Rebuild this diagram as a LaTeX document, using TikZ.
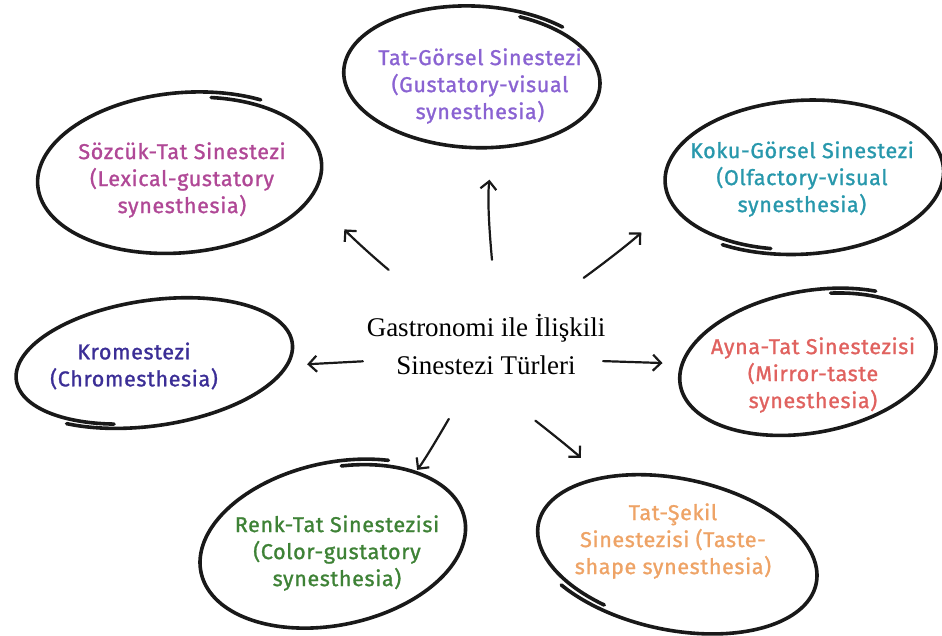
\documentclass[tikz,border=0pt]{standalone}
\usepackage{fontspec}
\setmainfont{Liberation Serif}
\newfontfamily\bubblefont{Fira Sans}[FakeBold=1.2, LetterSpace=3]
\usetikzlibrary{positioning, arrows.meta, shapes.geometric}

\definecolor{tgcol}{RGB}{138,99,210}
\definecolor{szcol}{RGB}{176,72,150}
\definecolor{kokucol}{RGB}{40,152,172}
\definecolor{kromcol}{RGB}{59,46,150}
\definecolor{aynacol}{RGB}{224,98,95}
\definecolor{renkcol}{RGB}{62,130,54}
\definecolor{sekilcol}{RGB}{238,163,102}

\begin{document}
\begin{tikzpicture}[
    x=1pt, y=-1pt,
    hub/.style={
        ellipse,
        inner xsep=-40pt,
        inner ysep=0pt,
        minimum width=250pt,
        minimum height=190pt,
        align=center,
        font=\fontsize{27}{38}\selectfont
    },
    bubble/.style={
        ellipse,
        inner xsep=-40pt,
        inner ysep=0pt,
        align=center,
        font=\bubblefont\fontsize{21.5}{27}\selectfont
    },
    sketch/.style={
        line width=3.6pt,
        line cap=round,
        line join=round,
        black!90
    },
    arrow/.style={
        -{Straight Barb[length=8pt,width=16pt]},
        line width=2.2pt,
        line cap=round,
        black!90
    }
]

\useasboundingbox (0,0) rectangle (942,636);

\node[hub] (hub) at (486,344) {Gastronomi ile İlişkili\\Sinestezi Türleri};

\node[bubble, text=tgcol, minimum width=258pt, minimum height=140pt] (tatgorsel)
    at (480,86) {Tat-Görsel Sinestezi\\(Gustatory-visual\\synesthesia)};

\node[bubble, text=szcol, minimum width=286pt, minimum height=158pt] (sozcuk)
    at (182,180) {Sözcük-Tat Sinestezi\\(Lexical-gustatory\\synesthesia)};

\node[bubble, text=kokucol, minimum width=280pt, minimum height=152pt] (koku)
    at (802,179) {Koku-Görsel Sinestezi\\(Olfactory-visual\\synesthesia)};

\node[bubble, text=kromcol, minimum width=280pt, minimum height=124pt] (krom)
    at (134,366) {Kromestezi\\(Chromesthesia)};

\node[bubble, text=aynacol, minimum width=260pt, minimum height=140pt] (ayna)
    at (813,375) {Ayna-Tat Sinestezisi\\(Mirror-taste\\synesthesia)};

\node[bubble, text=renkcol, minimum width=270pt, minimum height=160pt] (renk)
    at (337,553) {Renk-Tat Sinestezisi\\(Color-gustatory\\synesthesia)};

\node[bubble, text=sekilcol, minimum width=286pt, minimum height=150pt] (sekil)
    at (673,541) {Tat-Şekil\\Sinestezisi (Taste-\\shape synesthesia)};

\foreach \name/\dx/\dy/\rx/\ry/\rot/\start in {
    tatgorsel/-6/-8/129/70/-3/-70,
    sozcuk/0/-6/143/79/5/-75,
    koku/0/-3/140/76/3/105,
    krom/18/-4/140/62/8/110,
    ayna/-3/-12/130/70/10/-75,
    renk/-2/-8/135/80/12/-80,
    sekil/2/12/143/75/-12/115}
{
    \pgfmathsetmacro\stop{\start+380}
    \draw[sketch, shift={(\name.center)}, shift={(\dx,\dy)}, rotate=\rot]
        plot[smooth, domain=\start:\stop, samples=90, variable=\t]
        ({\rx*(0.965+0.07*(\t-(\start))/380)*cos(\t)},
         {\ry*(0.965+0.07*(\t-(\start))/380)*sin(\t)});
}

\draw[arrow, shorten <=-11pt, shorten >=24pt] (hub.87) to[bend left=6] (tatgorsel.-80);
\draw[arrow, shorten <=11pt, shorten >=37pt] (hub.143) to[bend left=4] (sozcuk.-9);
\draw[arrow, shorten <=5pt, shorten >=40pt] (hub.34) to[bend right=4] (koku.191);
\draw[arrow, shorten >=33pt] (hub.188) -- (krom.0);
\draw[arrow, shorten <=-6pt, shorten >=22pt] (hub.-8) -- (ayna.175);
\draw[arrow, shorten <=-16pt, shorten >=18pt] (hub.243) to[bend left=4] (renk.45);
\draw[arrow, shorten <=-12pt, shorten >=26pt] (hub.-55) to[bend left=4] (sekil.139);

\end{tikzpicture}
\end{document}
